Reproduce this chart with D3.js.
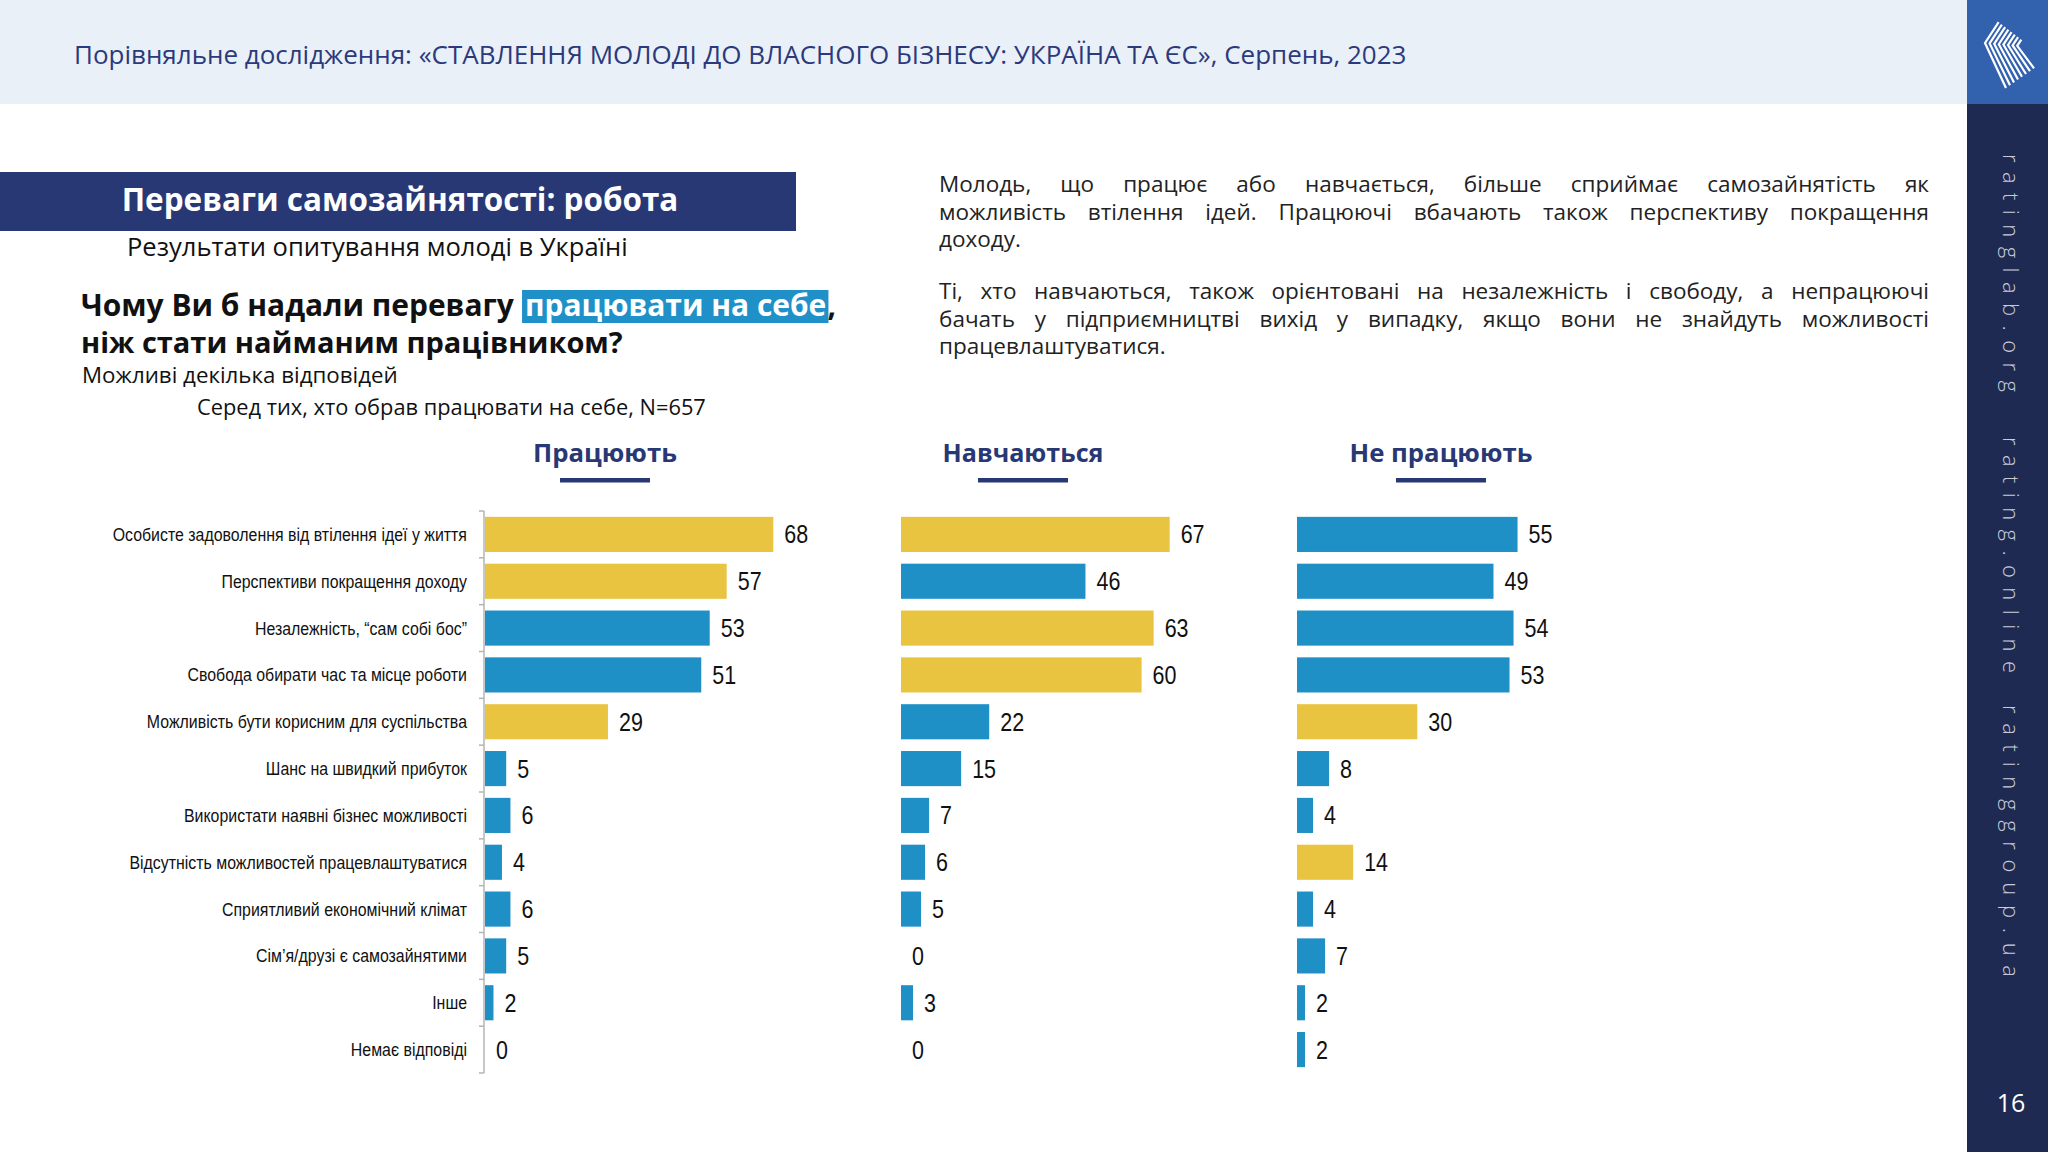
<!DOCTYPE html>
<html lang="uk">
<head>
<meta charset="UTF-8">
<title>Переваги самозайнятості: робота</title>
<script src="https://d3js.org/d3.v7.min.js"></script>
<style>
  body { margin: 0; background: #fff; }
  svg { display: block; }
</style>
</head>
<body>
<script>
// дані з графіка
const categories = [
  "Особисте задоволення від втілення ідеї у життя",
  "Перспективи покращення доходу",
  "Незалежність, “сам собі бос”",
  "Свобода обирати час та місце роботи",
  "Можливість бути корисним для суспільства",
  "Шанс на швидкий прибуток",
  "Використати наявні бізнес можливості",
  "Відсутність можливостей працевлаштуватися",
  "Сприятливий економічний клімат",
  "Сім’я/друзі є самозайнятими",
  "Інше",
  "Немає відповіді"
];
const groups = ["Працюють", "Навчаються", "Не працюють"];
const working    = [68, 57, 53, 51, 29, 5, 6, 4, 6, 5, 2, 0];
const studying   = [67, 46, 63, 60, 22, 15, 7, 6, 5, 0, 3, 0];
const notWorking = [55, 49, 54, 53, 30, 8, 4, 14, 4, 7, 2, 2];
// які рядки виділено жовтим у кожній групі
const topWorking    = [0, 1, 4];
const topStudying   = [0, 2, 3];
const topNotWorking = [4, 7];

const headerText = "Порівняльне дослідження: «СТАВЛЕННЯ МОЛОДІ ДО ВЛАСНОГО БІЗНЕСУ: УКРАЇНА ТА ЄС», Серпень, 2023";
const paragraph1 = [
  "Молодь, що працює або навчається, більше сприймає самозайнятість як",
  "можливість втілення ідей. Працюючі вбачають також перспективу покращення",
  "доходу."
];
const paragraph2 = [
  "Ті, хто навчаються, також орієнтовані на незалежність і свободу, а непрацюючі",
  "бачать у підприємництві вихід у випадку, якщо вони не знайдуть можливості",
  "працевлаштуватися."
];
const sites = ["ratinglab.org", "rating.online", "ratinggroup.ua"];

const W = 2048, H = 1152;
const BLUE = "#1f90c6", YELLOW = "#e8c441", NAVY = "#283874";
const SANS = "'Open Sans', 'Noto Sans', sans-serif";
const ARIAL = "'Liberation Sans', Arial, sans-serif";
const NARROW_K = 0.86; // стискання під Arial Narrow

const svg = d3.select("body").append("svg")
  .attr("width", W).attr("height", H);

// підганяє розмір шрифту під потрібну ширину
function fit(sel, w) {
  const cur = sel.node().getComputedTextLength();
  const fs = parseFloat(sel.attr("font-size"));
  sel.attr("font-size", fs * w / cur);
  return sel;
}

// --- шапка
svg.append("rect").attr("x", 0).attr("y", 0).attr("width", 1967).attr("height", 104).attr("fill", "#eaf0f8");
fit(svg.append("text").attr("x", 74).attr("y", 64)
  .attr("font-family", SANS).attr("font-size", 23).attr("fill", "#2b3a7c")
  .text(headerText), 1333);

// --- бічна панель
svg.append("rect").attr("x", 1967).attr("y", 0).attr("width", 81).attr("height", H).attr("fill", "#1f2a52");
svg.append("rect").attr("x", 1967).attr("y", 0).attr("width", 81).attr("height", 104).attr("fill", "#3261ae");

// логотип: вкладені шеврони
const logo = svg.append("g").attr("stroke", "#fff").attr("stroke-width", 2.2).attr("fill", "none");
for (let i = 0; i < 8; i++) {
  const tipX = 1985 + i * 4.6, tipY = 43 + i * 0.4;
  const len = 22 - i * 2.2;
  logo.append("polyline").attr("points", [
    [tipX + len * 0.62, tipY - len * 0.95],
    [tipX, tipY],
    [tipX + 21 - i * 0.6, tipY + 45 - i * 3.2]
  ].map(p => p.join(",")).join(" "));
}

const siteSpans = [[154, 238], [437, 236], [705, 272]];
sites.forEach((s, i) => {
  svg.append("text")
    .attr("transform", `translate(2003,${siteSpans[i][0]}) rotate(90)`)
    .attr("font-family", SANS).attr("font-weight", 300).attr("font-size", 22)
    .attr("fill", "#c9ccd8")
    .attr("textLength", siteSpans[i][1]).attr("lengthAdjust", "spacing")
    .text(s);
});
svg.append("text").attr("x", 2011).attr("y", 1112).attr("text-anchor", "middle")
  .attr("font-family", SANS).attr("font-size", 25).attr("fill", "#fff").text("16");

// --- заголовок-банер
svg.append("rect").attr("x", 0).attr("y", 172).attr("width", 796).attr("height", 59).attr("fill", NAVY);
fit(svg.append("text").attr("x", 400).attr("y", 211).attr("text-anchor", "middle")
  .attr("font-family", SANS).attr("font-weight", 700).attr("font-size", 29).attr("fill", "#fff")
  .text("Переваги самозайнятості: робота"), 557);

fit(svg.append("text").attr("x", 127).attr("y", 256)
  .attr("font-family", SANS).attr("font-size", 23).attr("fill", "#111")
  .text("Результати опитування молоді в Україні"), 501);

// --- питання
fit(svg.append("text").attr("x", 81).attr("y", 353)
  .attr("font-family", SANS).attr("font-weight", 700).attr("font-size", 29).attr("fill", "#111")
  .text("ніж стати найманим працівником?"), 542);

const q1 = svg.append("g");
const q1a = q1.append("text").attr("x", 0).attr("y", 316)
  .attr("font-family", SANS).attr("font-weight", 700).attr("font-size", 29).attr("fill", "#111")
  .text("Чому Ви б надали перевагу");
const hl = q1.append("rect").attr("fill", "#2090c8");
const q1b = q1.append("text").attr("y", 316)
  .attr("font-family", SANS).attr("font-weight", 700).attr("font-size", 29).attr("fill", "#fff")
  .text("працювати на себе");
const q1c = q1.append("text").attr("y", 316)
  .attr("font-family", SANS).attr("font-weight", 700).attr("font-size", 29).attr("fill", "#111")
  .text(",");
// розмір першого рядка так, щоб він займав ту ж ширину, що в оригіналі
const wa = q1a.node().getComputedTextLength(), wb = q1b.node().getComputedTextLength(),
      wc = q1c.node().getComputedTextLength();
const fsQ = 29 * (755 - 12) / (wa + wb + wc);
const sQ = fsQ / 29;
q1.selectAll("text").attr("font-size", fsQ);
const hx = 81 + wa * sQ + 11;
q1a.attr("x", 81);
q1b.attr("x", hx);
hl.attr("x", hx - 3).attr("y", 290).attr("width", wb * sQ + 5).attr("height", 33);
q1c.attr("x", hx + wb * sQ + 1);

fit(svg.append("text").attr("x", 82).attr("y", 383)
  .attr("font-family", SANS).attr("font-size", 21).attr("fill", "#111")
  .text("Можливі декілька відповідей"), 316);
fit(svg.append("text").attr("x", 197).attr("y", 415)
  .attr("font-family", SANS).attr("font-size", 21).attr("fill", "#111")
  .text("Серед тих, хто обрав працювати на себе, N=657"), 509);

// --- текст праворуч, вирівняний по ширині
function justify(lines, x0, x1, y0, lh) {
  lines.forEach((line, li) => {
    const y = y0 + li * lh;
    const words = line.split(" ");
    const g = svg.append("g");
    const nodes = words.map(w => g.append("text").attr("y", y)
      .attr("font-family", SANS).attr("font-size", 22.5).attr("fill", "#222").text(w));
    const widths = nodes.map(n => n.node().getComputedTextLength());
    const last = li === lines.length - 1;
    const gap = last ? 6 : (x1 - x0 - d3.sum(widths)) / (words.length - 1);
    let x = x0;
    nodes.forEach((n, i) => { n.attr("x", x); x += widths[i] + gap; });
  });
}
justify(paragraph1, 939, 1929, 192, 27.5);
justify(paragraph2, 939, 1929, 299, 27.5);

// --- стовпчики
const y = d3.scaleBand().domain(categories).range([511, 1073])
  .paddingInner(0.25).paddingOuter(0.125);

const panels = [
  { name: groups[0], values: working,    top: topWorking,    x0: 485,  w: 424, head: 605 },
  { name: groups[1], values: studying,   top: topStudying,   x0: 901,  w: 401, head: 1023 },
  { name: groups[2], values: notWorking, top: topNotWorking, x0: 1297, w: 401, head: 1441 }
];
const headWidths = [144, 161, 183];

panels.forEach((p, pi) => {
  const x = d3.scaleLinear().domain([0, 100]).range([p.x0, p.x0 + p.w]);
  const g = svg.append("g");

  fit(g.append("text").attr("x", p.head).attr("y", 462).attr("text-anchor", "middle")
    .attr("font-family", SANS).attr("font-weight", 700).attr("font-size", 25).attr("fill", NAVY)
    .text(p.name), headWidths[pi]);
  g.append("rect").attr("x", p.head - 45).attr("y", 478).attr("width", 90).attr("height", 4.5)
    .attr("fill", NAVY);

  const rows = categories.map((c, i) => ({ c, v: p.values[i], top: p.top.includes(i) }));

  g.selectAll("rect.bar").data(rows).join("rect").attr("class", "bar")
    .attr("x", x(0)).attr("y", d => y(d.c))
    .attr("width", d => x(d.v) - x(0)).attr("height", y.bandwidth())
    .attr("fill", d => d.top ? YELLOW : BLUE);

  g.selectAll("text.val").data(rows).join("text").attr("class", "val")
    .attr("transform", d => `translate(${x(d.v) + 11},${y(d.c) + y.bandwidth() / 2}) scale(${NARROW_K},1)`)
    .attr("dy", "0.36em")
    .attr("font-family", ARIAL).attr("font-size", 25).attr("fill", "#111")
    .text(d => d.v);
});

// вісь категорій для першої групи
const x0 = panels[0].x0;
const axis = svg.append("g").attr("stroke", "#b4b4b4").attr("stroke-width", 1.5);
const step = y.step();
axis.append("line").attr("x1", x0 - 1).attr("x2", x0 - 1)
  .attr("y1", 511).attr("y2", 511 + step * categories.length);
d3.range(categories.length + 1).forEach(i => {
  axis.append("line").attr("x1", x0 - 6).attr("x2", x0 - 1)
    .attr("y1", 511 + i * step).attr("y2", 511 + i * step);
});

svg.append("g").selectAll("text").data(categories).join("text")
  .attr("transform", d => `translate(467,${y(d) + y.bandwidth() / 2}) scale(${NARROW_K},1)`)
  .attr("dy", "0.35em")
  .attr("text-anchor", "end")
  .attr("font-family", ARIAL).attr("font-size", 18.5).attr("fill", "#111")
  .text(d => d);
</script>
</body>
</html>
